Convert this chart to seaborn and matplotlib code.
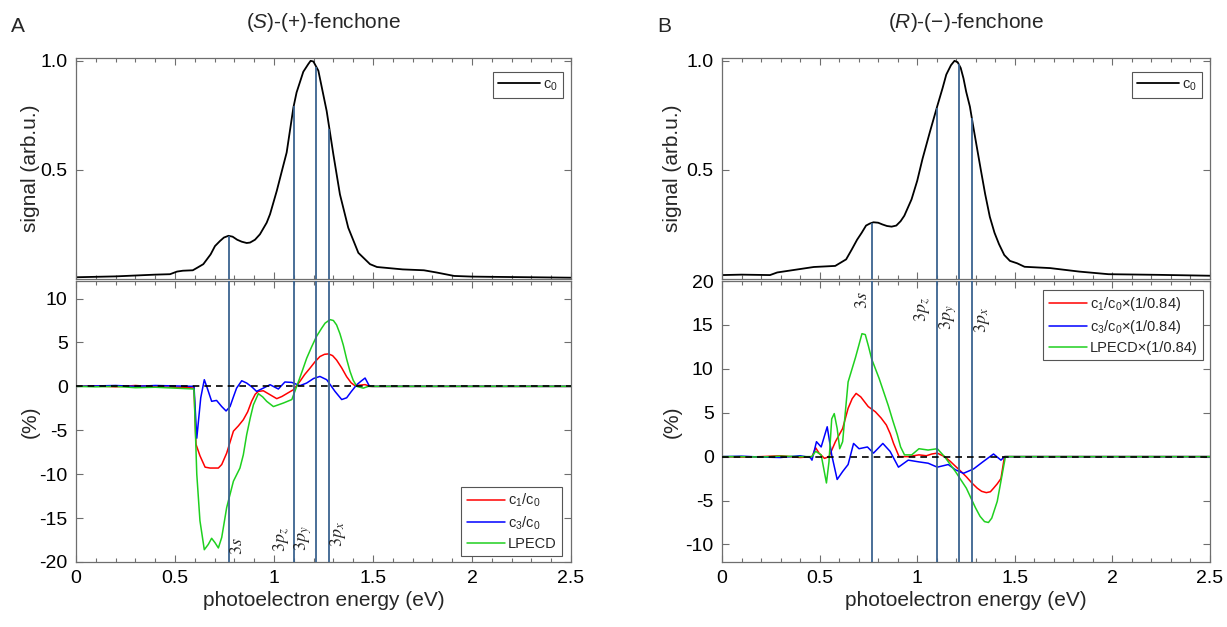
import numpy as np
import pandas as pd
import matplotlib
matplotlib.use('Agg')
import matplotlib.pyplot as plt
import seaborn as sns
from matplotlib.ticker import MultipleLocator, FixedLocator, FixedFormatter

# ---------------- data ----------------
state_labels = [r'$3s$', r'$3p_z$', r'$3p_y$', r'$3p_x$']
state_energies = [0.771, 1.100, 1.213, 1.280]

# panel A, top: c0
a_c0_x = [0.0, 0.1, 0.2, 0.3, 0.4, 0.475, 0.51, 0.54, 0.59, 0.613, 0.643, 0.68, 0.702, 0.727,
          0.747, 0.77, 0.791, 0.814, 0.837, 0.862, 0.879, 0.904, 0.929, 0.963, 0.98, 1.014,
          1.044, 1.064, 1.098, 1.114, 1.148, 1.173, 1.185, 1.199, 1.224, 1.266, 1.3, 1.333,
          1.375, 1.426, 1.485, 1.52, 1.65, 1.757, 1.82, 1.91, 2.0, 2.09, 2.3, 2.5]
a_c0_y = [0.008, 0.010, 0.012, 0.016, 0.020, 0.022, 0.034, 0.038, 0.040, 0.052, 0.068, 0.113,
          0.151, 0.174, 0.190, 0.198, 0.194, 0.180, 0.171, 0.165, 0.167, 0.180, 0.205, 0.258,
          0.297, 0.404, 0.510, 0.580, 0.786, 0.855, 0.950, 0.985, 1.0, 0.997, 0.955, 0.770,
          0.570, 0.388, 0.235, 0.120, 0.068, 0.055, 0.044, 0.040, 0.030, 0.014, 0.011, 0.010,
          0.008, 0.006]

# panel A, bottom: c1/c0, c3/c0, LPECD (%)
a_c1_x = [0.0, 0.1, 0.2, 0.3, 0.4, 0.5, 0.55, 0.596, 0.606, 0.626, 0.652, 0.677, 0.719, 0.736,
          0.761, 0.795, 0.82, 0.845, 0.867, 0.887, 0.905, 0.921, 0.946, 0.98, 1.014, 1.04, 1.064,
          1.098, 1.131, 1.155, 1.182, 1.207, 1.232, 1.255, 1.275, 1.296, 1.316, 1.342, 1.367,
          1.39, 1.409, 1.46, 1.485, 2.5]
a_c1_y = [0.0, 0.05, -0.05, 0.1, -0.05, -0.1, -0.1, -0.2, -6.6, -7.9, -9.2, -9.3, -9.3, -8.9,
          -7.6, -5.1, -4.5, -3.8, -2.9, -1.7, -0.9, -0.57, -0.5, -0.95, -1.4, -1.15, -0.83,
          -0.38, 0.57, 1.35, 2.08, 2.8, 3.4, 3.65, 3.7, 3.5, 3.0, 2.1, 1.1, 0.4, 0.08, 0.2,
          0.0, 0.0]

a_c3_x = [0.0, 0.1, 0.2, 0.3, 0.4, 0.5, 0.596, 0.61, 0.63, 0.648, 0.663, 0.685, 0.71, 0.736,
          0.758, 0.778, 0.795, 0.811, 0.837, 0.862, 0.89, 0.912, 0.946, 0.98, 1.022, 1.055,
          1.09, 1.131, 1.165, 1.2, 1.232, 1.266, 1.29, 1.308, 1.342, 1.367, 1.39, 1.418,
          1.44, 1.46, 1.48, 1.494, 2.5]
a_c3_y = [0.0, 0.05, 0.1, 0.0, 0.1, 0.05, 0.0, -5.9, -1.3, 0.76, -0.2, -1.7, -1.6, -2.3,
          -2.8, -2.3, -1.2, -0.2, 0.64, 0.38, -0.1, -0.57, -0.2, 0.19, -0.3, 0.5, 0.45, 0.08,
          0.38, 0.9, 1.13, 0.76, 0.0, -0.57, -1.5, -1.3, -0.6, 0.19, 0.6, 0.95, 0.1, 0.0, 0.0]

a_lp_x = [0.0, 0.1, 0.2, 0.3, 0.4, 0.5, 0.55, 0.596, 0.61, 0.626, 0.648, 0.668, 0.685, 0.702,
          0.719, 0.736, 0.761, 0.795, 0.828, 0.845, 0.862, 0.88, 0.896, 0.921, 0.943, 0.963,
          0.997, 1.047, 1.09, 1.124, 1.145, 1.165, 1.19, 1.215, 1.24, 1.258, 1.283, 1.3,
          1.316, 1.333, 1.35, 1.367, 1.384, 1.4, 1.418, 1.451, 1.476, 2.5]
a_lp_y = [0.0, -0.05, 0.0, -0.15, -0.1, -0.2, -0.25, -0.3, -10.0, -15.3, -18.6, -18.0, -17.3,
          -17.8, -18.4, -17.2, -13.8, -10.8, -9.3, -7.8, -5.5, -3.6, -2.1, -0.83, -1.2, -1.7,
          -2.3, -1.9, -1.5, 0.57, 1.9, 3.2, 4.5, 5.7, 6.6, 7.2, 7.6, 7.5, 7.0, 6.0, 4.7, 3.1,
          1.7, 0.7, 0.0, -0.2, 0.0, 0.0]

# panel B, top: c0
b_c0_x = [0.0, 0.1, 0.246, 0.283, 0.47, 0.58, 0.636, 0.664, 0.692, 0.715, 0.738, 0.757, 0.776,
          0.8, 0.822, 0.845, 0.869, 0.893, 0.915, 0.934, 0.971, 1.0, 1.027, 1.065, 1.102, 1.13,
          1.149, 1.173, 1.191, 1.207, 1.223, 1.237, 1.251, 1.27, 1.285, 1.307, 1.326, 1.348,
          1.372, 1.396, 1.419, 1.446, 1.475, 1.512, 1.55, 1.681, 1.83, 1.98, 2.24, 2.5]
b_c0_y = [0.018, 0.020, 0.018, 0.030, 0.055, 0.060, 0.090, 0.134, 0.180, 0.211, 0.245, 0.254,
          0.260, 0.258, 0.250, 0.243, 0.240, 0.245, 0.265, 0.290, 0.365, 0.450, 0.550, 0.674,
          0.790, 0.875, 0.937, 0.980, 1.0, 0.994, 0.967, 0.920, 0.858, 0.790, 0.710, 0.597,
          0.500, 0.390, 0.285, 0.212, 0.160, 0.110, 0.083, 0.072, 0.056, 0.050, 0.034, 0.022,
          0.019, 0.015]

# panel B, bottom (scaled by 1/0.84)
b_c1_x = [0.0, 0.1, 0.2, 0.3, 0.35, 0.4, 0.461, 0.48, 0.497, 0.525, 0.548, 0.581, 0.618, 0.646,
          0.667, 0.687, 0.711, 0.749, 0.786, 0.815, 0.842, 0.862, 0.879, 0.907, 0.954, 1.009,
          1.047, 1.075, 1.103, 1.14, 1.17, 1.196, 1.225, 1.252, 1.28, 1.308, 1.33, 1.354,
          1.375, 1.391, 1.41, 1.429, 1.447, 2.5]
b_c1_y = [0.0, -0.05, 0.0, 0.1, 0.0, -0.1, 0.0, 1.0, 0.4, -0.2, 0.0, 1.7, 3.2, 5.5, 6.6, 7.2,
          6.8, 5.7, 5.1, 4.4, 3.6, 2.6, 1.5, 0.0, 0.0, 0.2, 0.1, 0.3, 0.4, 0.0, -0.55, -1.1,
          -1.7, -2.3, -3.0, -3.6, -3.95, -4.1, -4.0, -3.6, -3.1, -2.5, 0.0, 0.0]

b_c3_x = [0.0, 0.1, 0.2, 0.3, 0.4, 0.452, 0.461, 0.484, 0.508, 0.539, 0.562, 0.59, 0.618, 0.646,
          0.674, 0.702, 0.745, 0.776, 0.824, 0.861, 0.904, 0.954, 1.009, 1.056, 1.103, 1.159,
          1.196, 1.237, 1.289, 1.336, 1.391, 1.429, 1.447, 2.5]
b_c3_y = [0.0, 0.05, -0.05, -0.1, 0.1, -0.1, -0.4, 1.7, 1.1, 3.4, 0.2, -2.6, -1.7, -0.9,
          1.5, 0.9, 1.1, 0.4, 1.5, 0.6, -1.2, -0.4, -0.6, -0.75, -1.2, -0.9,
          -1.5, -1.9, -1.4, -0.6, 0.3, -0.4, 0.0, 0.0]

b_lp_x = [0.0, 0.1, 0.2, 0.3, 0.4, 0.46, 0.48, 0.508, 0.535, 0.548, 0.562, 0.575, 0.59, 0.603,
          0.618, 0.646, 0.684, 0.7, 0.717, 0.734, 0.75, 0.767, 0.805, 0.852, 0.875, 0.898, 0.915,
          0.935, 0.972, 1.009, 1.056, 1.103, 1.14, 1.196, 1.252, 1.298, 1.322, 1.345, 1.365,
          1.382, 1.41, 1.438, 1.452, 2.5]
b_lp_y = [0.0, 0.0, -0.05, 0.05, 0.0, 0.0, 0.6, 0.2, -3.0, -0.6, 4.3, 4.9, 3.2, 0.9, 1.7, 8.5,
          11.3, 12.6, 14.0, 13.9, 12.6, 11.1, 8.9, 5.8, 4.1, 2.5, 1.1, 0.2, 0.2, 0.9, 0.75, 0.9,
          0.0, -1.7, -3.6, -5.8, -6.8, -7.4, -7.5, -7.0, -5.1, -1.7, 0.0, 0.0]

x_ticks = [0, 0.5, 1, 1.5, 2, 2.5]
x_tick_labels = ['0', '0.5', '1', '1.5', '2', '2.5']

# ---------------- style ----------------
sns.set_style('white')
plt.rcParams['font.family'] = ['Liberation Sans', 'DejaVu Sans']
plt.rcParams['mathtext.fontset'] = 'custom'
plt.rcParams['mathtext.rm'] = 'Liberation Sans'
plt.rcParams['mathtext.it'] = 'Liberation Sans:italic'
plt.rcParams['mathtext.bf'] = 'Liberation Sans:bold'
plt.rcParams['xtick.direction'] = 'in'
plt.rcParams['ytick.direction'] = 'in'

W, H = 1227, 627
fig = plt.figure(figsize=(W / 100, H / 100), dpi=100)

spine_col = '#6e6e6e'
vline_col = '#3B6390'
c_red, c_blue, c_green = '#FF0000', '#0000FF', '#1FD01F'


def frac_axes(x0, x1, y0, y1):
    return fig.add_axes([x0 / W, 1 - y1 / H, (x1 - x0) / W, (y1 - y0) / H])


def style_axes(ax, show_xlabels):
    for s in ax.spines.values():
        s.set_visible(True)
        s.set_color(spine_col)
        s.set_linewidth(0.9)
    ax.set_xlim(0, 2.5)
    ax.xaxis.set_major_locator(FixedLocator(x_ticks))
    ax.xaxis.set_minor_locator(MultipleLocator(0.1))
    ax.tick_params(axis='both', which='both', top=True, right=True, bottom=True, left=True,
                   colors=spine_col, labelcolor='black', labelsize=14, width=0.8)
    ax.tick_params(which='major', length=5, pad=6)
    ax.tick_params(which='minor', length=3)
    if show_xlabels:
        ax.xaxis.set_major_formatter(FixedFormatter(x_tick_labels))
    else:
        ax.tick_params(axis='x', labelbottom=False)
    ax.grid(False)


panels = [
    dict(x0=76, x1=571, letter='A', title=r'($\mathit{S}$)-(+)-fenchone',
         c0x=a_c0_x, c0y=a_c0_y,
         series=[(a_c1_x, a_c1_y, c_red, r'c$_1$/c$_0$'),
                 (a_c3_x, a_c3_y, c_blue, r'c$_3$/c$_0$'),
                 (a_lp_x, a_lp_y, c_green, 'LPECD')],
         ylim=(-20, 12), yticks=[-20, -15, -10, -5, 0, 5, 10],
         lab_dx=[0.047, -0.06, -0.066, 0.043], lab_y=[-18.2, -17.4, -17.3, -16.8],
         ylab_x=30, leg_loc='lower right'),
    dict(x0=722, x1=1210, letter='B', title='($\\mathit{R}$)-(\u2212)-fenchone',
         c0x=b_c0_x, c0y=b_c0_y,
         series=[(b_c1_x, b_c1_y, c_red, 'c$_1$/c$_0$\u00d7(1/0.84)'),
                 (b_c3_x, b_c3_y, c_blue, 'c$_3$/c$_0$\u00d7(1/0.84)'),
                 (b_lp_x, b_lp_y, c_green, 'LPECD\u00d7(1/0.84)')],
         ylim=(-12, 20), yticks=[-10, -5, 0, 5, 10, 15, 20],
         lab_dx=[-0.05, -0.072, -0.056, 0.054], lab_y=[17.8, 16.7, 15.9, 15.5],
         ylab_x=672, leg_loc='upper right'),
]

top_y0, top_y1 = 58, 279
bot_y0, bot_y1 = 281, 562

for p in panels:
    x0, x1 = p['x0'], p['x1']
    axw = x1 - x0
    # ---- top axes
    axt = frac_axes(x0, x1, top_y0, top_y1)
    df0 = pd.DataFrame({'E': p['c0x'], 'S': p['c0y']})
    sns.lineplot(data=df0, x='E', y='S', ax=axt, color='black', lw=1.3,
                 estimator=None, sort=False, label='c$_0$')
    heights = np.interp(state_energies, p['c0x'], p['c0y'])
    axt.vlines(state_energies, 0, heights, color=vline_col, lw=1.3, zorder=3)
    axt.set_ylim(0, 1.013)
    axt.yaxis.set_major_locator(FixedLocator([0.5, 1.0]))
    axt.yaxis.set_major_formatter(FixedFormatter(['0.5', '1.0']))
    style_axes(axt, False)
    axt.set_xlabel('')
    axt.set_ylabel('signal (arb.u.)', fontsize=15)
    axt.yaxis.set_label_coords((p['ylab_x'] - x0) / axw, 0.5)
    axt.yaxis.label.set_va('center')
    leg = axt.legend(loc='upper right', bbox_to_anchor=(1 - 8 / axw, 1 - 14 / 221),
                     borderaxespad=0, fontsize=10.5, handlelength=2.9, handletextpad=0.2,
                     borderpad=0.35, frameon=True, fancybox=False, framealpha=1)
    leg.get_frame().set_edgecolor('#555555')
    leg.get_frame().set_linewidth(0.8)

    # ---- bottom axes
    axb = frac_axes(x0, x1, bot_y0, bot_y1)
    for sx, sy, col, lab in p['series']:
        dfs = pd.DataFrame({'E': sx, 'V': sy})
        sns.lineplot(data=dfs, x='E', y='V', ax=axb, color=col, lw=1.1,
                     estimator=None, sort=False, label=lab)
    axb.axhline(0, color='black', lw=1.2, ls=(0, (4, 3)), zorder=4)
    axb.vlines(state_energies, p['ylim'][0], p['ylim'][1], color=vline_col, lw=1.3, zorder=3)
    for e, lab, dx, ly in zip(state_energies, state_labels, p['lab_dx'], p['lab_y']):
        axb.text(e + dx, ly, lab, rotation=90, ha='center', va='center', fontsize=13,
                 math_fontfamily='stix')
    axb.set_ylim(*p['ylim'])
    axb.yaxis.set_major_locator(FixedLocator(p['yticks']))
    axb.yaxis.set_major_formatter(FixedFormatter([str(v) for v in p['yticks']]))
    style_axes(axb, True)
    axb.set_xlabel('photoelectron energy (eV)', fontsize=15)
    axb.xaxis.set_label_coords(0.5, -(601 - bot_y1) / (bot_y1 - bot_y0))
    axb.xaxis.label.set_va('center')
    axb.set_ylabel('(%)', fontsize=15)
    axb.yaxis.set_label_coords((p['ylab_x'] - x0) / axw, 0.5)
    axb.yaxis.label.set_va('center')
    if p['leg_loc'] == 'lower right':
        anchor = (1 - 9 / axw, 6 / 281)
    else:
        anchor = (1 - 7 / axw, 1 - 9 / 281)
    leg = axb.legend(loc=p['leg_loc'], bbox_to_anchor=anchor, borderaxespad=0,
                     fontsize=10.5, handlelength=2.6, handletextpad=0.25, labelspacing=0.35,
                     borderpad=0.35, frameon=True, fancybox=False, framealpha=1)
    leg.get_frame().set_edgecolor('#555555')
    leg.get_frame().set_linewidth(0.8)

    # titles / letters
    fig.text((x0 + x1) / 2 / W, 1 - 23 / H, p['title'], ha='center', va='center', fontsize=15)
    fig.text((x0 - 58) / W, 1 - 27 / H, p['letter'], ha='center', va='center', fontsize=15)

fig.savefig('out.png', dpi=100)
